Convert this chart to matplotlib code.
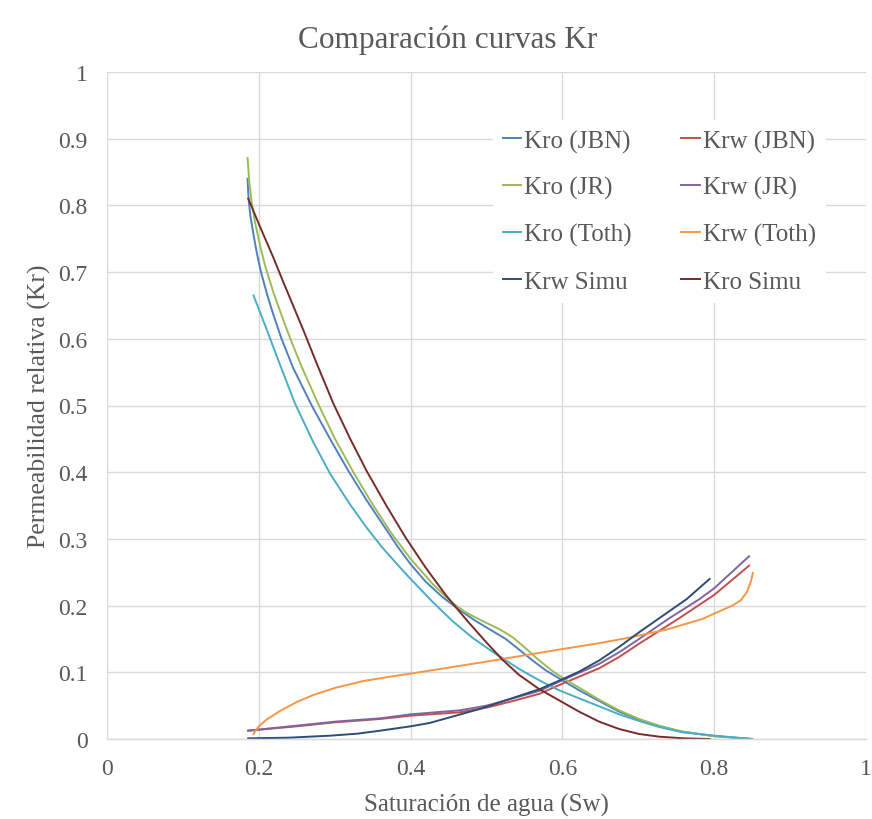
import matplotlib
matplotlib.use("Agg")
import matplotlib.pyplot as plt

# ---- data ----
sw_kro_jbn = [0.1852, 0.1865, 0.1888, 0.1932, 0.1977, 0.2029, 0.2108, 0.2195, 0.2300, 0.2450, 0.2697, 0.2938,
              0.318, 0.342, 0.3838, 0.40, 0.4198, 0.4418, 0.4637, 0.4857, 0.5077, 0.5253, 0.543, 0.5604, 0.578,
              0.60, 0.622, 0.6484, 0.6747, 0.7011, 0.7275, 0.7582, 0.80, 0.85]
kro_jbn    = [0.84, 0.81, 0.785, 0.755, 0.727, 0.70, 0.667, 0.635, 0.600, 0.557, 0.50, 0.45,
              0.402, 0.358, 0.287, 0.262, 0.236, 0.213, 0.194, 0.177, 0.162, 0.150, 0.134, 0.118, 0.103,
              0.088, 0.073, 0.057, 0.041, 0.029, 0.019, 0.011, 0.0045, 0.0]

sw_krw_jbn = [0.186, 0.25, 0.30, 0.36, 0.40, 0.465, 0.50, 0.535, 0.5705, 0.5956, 0.6484, 0.6747, 0.7011, 0.7538,
              0.792, 0.80, 0.846]
krw_jbn    = [0.0125, 0.019, 0.025, 0.030, 0.035, 0.040, 0.047, 0.057, 0.068, 0.0808, 0.106, 0.123, 0.1429, 0.181,
              0.21, 0.216, 0.26]

sw_kro_jr = [0.1852, 0.1875, 0.1906, 0.195, 0.2016, 0.2082, 0.2191, 0.2323, 0.2447, 0.2565, 0.2784, 0.3004,
             0.3245, 0.3509, 0.375, 0.40, 0.4286, 0.455, 0.4725, 0.4945, 0.5165, 0.534, 0.5516, 0.5692, 0.5868,
             0.60, 0.622, 0.6484, 0.6747, 0.7011, 0.7275, 0.7582, 0.80, 0.85]
kro_jr    = [0.871, 0.835, 0.805, 0.775, 0.740, 0.710, 0.670, 0.628, 0.591, 0.558, 0.502, 0.450,
             0.400, 0.350, 0.308, 0.270, 0.233, 0.204, 0.190, 0.177, 0.165, 0.153, 0.136, 0.118, 0.102,
             0.092, 0.077, 0.059, 0.043, 0.030, 0.020, 0.011, 0.004, 0.0]

sw_krw_jr = [0.186, 0.25, 0.30, 0.36, 0.40, 0.465, 0.50, 0.535, 0.5705, 0.5956, 0.6484, 0.6747, 0.7011, 0.7407,
             0.781, 0.80, 0.846]
krw_jr    = [0.0125, 0.020, 0.026, 0.031, 0.037, 0.043, 0.050, 0.061, 0.0725, 0.0859, 0.1126, 0.13, 0.15, 0.181,
             0.21, 0.226, 0.274]

sw_kro_toth = [0.193, 0.2016, 0.2104, 0.2183, 0.228, 0.2477, 0.2718, 0.2938, 0.32, 0.342, 0.362, 0.3846, 0.40,
               0.4286, 0.455, 0.4813, 0.5077, 0.5253, 0.543, 0.5648, 0.578, 0.5956, 0.622, 0.6484, 0.6747,
               0.7011, 0.7275, 0.7582, 0.80, 0.85]
kro_toth    = [0.665, 0.640, 0.614, 0.590, 0.561, 0.503, 0.445, 0.398, 0.352, 0.317, 0.288, 0.259, 0.240,
               0.206, 0.177, 0.152, 0.131, 0.118, 0.105, 0.091, 0.083, 0.073, 0.061, 0.049, 0.037,
               0.027, 0.018, 0.010, 0.005, 0.0]

sw_krw_toth = [0.193, 0.196, 0.20, 0.21, 0.228, 0.25, 0.272, 0.30, 0.338, 0.3846, 0.40, 0.4945, 0.5956, 0.65,
               0.6835, 0.737, 0.7846, 0.80, 0.824, 0.835, 0.843, 0.848, 0.851]
krw_toth    = [0.0075, 0.013, 0.019, 0.029, 0.042, 0.0555, 0.066, 0.0765, 0.087, 0.0955, 0.098, 0.115, 0.134, 0.144,
               0.151, 0.164, 0.180, 0.188, 0.200, 0.208, 0.22, 0.235, 0.249]

sw_krw_simu = [0.186, 0.24, 0.294, 0.33, 0.36, 0.40, 0.425, 0.491, 0.5705, 0.5956, 0.622, 0.6484, 0.6747, 0.7011,
               0.7275, 0.764, 0.794]
krw_simu    = [0.001, 0.002, 0.005, 0.008, 0.0125, 0.019, 0.024, 0.045, 0.075, 0.0874, 0.101, 0.1177, 0.138, 0.16,
               0.181, 0.21, 0.24]

sw_kro_simu = [0.1862, 0.2016, 0.2191, 0.2323, 0.2477, 0.2587, 0.2763, 0.2982, 0.32, 0.342, 0.3685, 0.3934,
               0.4198, 0.4462, 0.4725, 0.4989, 0.5209, 0.543, 0.5692, 0.5956, 0.622, 0.6484, 0.6747, 0.7011,
               0.7275, 0.76, 0.794]
kro_simu    = [0.81, 0.768, 0.722, 0.685, 0.643, 0.613, 0.563, 0.503, 0.451, 0.402, 0.349, 0.302,
               0.257, 0.216, 0.180, 0.146, 0.119, 0.096, 0.075, 0.058, 0.041, 0.026, 0.015, 0.0075,
               0.0035, 0.001, 0.0]

labels = ["Kro (JBN)", "Krw (JBN)", "Kro (JR)", "Krw (JR)",
          "Kro (Toth)", "Krw (Toth)", "Krw Simu", "Kro Simu"]
colors = ["#4F81BD", "#C0504D", "#9BBB59", "#8064A2",
          "#4BACC6", "#F79646", "#2C4D75", "#772C2A"]

x_ticks = [0, 0.2, 0.4, 0.6, 0.8, 1]
x_ticklabels = ["0", "0.2", "0.4", "0.6", "0.8", "1"]
y_ticks = [0, 0.1, 0.2, 0.3, 0.4, 0.5, 0.6, 0.7, 0.8, 0.9, 1]
y_ticklabels = ["0", "0.1", "0.2", "0.3", "0.4", "0.5", "0.6", "0.7", "0.8", "0.9", "1"]

series = [(sw_kro_jbn, kro_jbn), (sw_krw_jbn, krw_jbn), (sw_kro_jr, kro_jr),
          (sw_krw_jr, krw_jr), (sw_kro_toth, kro_toth), (sw_krw_toth, krw_toth),
          (sw_krw_simu, krw_simu), (sw_kro_simu, kro_simu)]

plt.rcParams['font.family'] = ['Liberation Serif', 'DejaVu Serif']
txt = "#595959"

fig = plt.figure(figsize=(8.72, 8.2), dpi=100)
ax = fig.add_axes([107/872, 1-740/820, (866-107)/872, (740-73)/820])

handles = []
for (x, y), lab, c in zip(series, labels, colors):
    h, = ax.plot(x, y, color=c, lw=1.4, label=lab, solid_joinstyle="round")
    handles.append(h)

ax.set_xlim(0, 1)
ax.set_ylim(0, 1)
ax.set_xticks(x_ticks)
ax.set_xticklabels(x_ticklabels)
ax.set_yticks(y_ticks)
ax.set_yticklabels(y_ticklabels)
ax.tick_params(length=0, labelsize=17, colors=txt, pad=14)
ax.grid(True, color="#D9D9D9", lw=1.0)
ax.set_axisbelow(True)
for s in ["top", "right", "left"]:
    ax.spines[s].set_visible(False)
ax.spines["bottom"].set_color("#D9D9D9")
ax.spines["bottom"].set_linewidth(1.0)

ax.set_xlabel("Saturación de agua (Sw)", fontsize=18, color=txt, labelpad=10)
ax.set_ylabel("Permeabilidad relativa (Kr)", fontsize=18.5, color=txt, labelpad=5)
fig.text(448/872, 1-40/820, "Comparación curvas Kr", fontsize=22.5, color=txt,
         ha="center", va="center")

# legend filled row by row, like the reference
order = [0, 2, 4, 6, 1, 3, 5, 7]
leg = ax.legend([handles[i] for i in order], [labels[i] for i in order],
                ncol=2, loc="upper left", bbox_to_anchor=((480-107)/759, (740-108)/667),
                fontsize=18, frameon=True, facecolor="white", edgecolor="none",
                framealpha=1, fancybox=False, handlelength=0.75, handletextpad=0.1,
                columnspacing=2.0, labelspacing=0.95, borderpad=0.4)
for t in leg.get_texts():
    t.set_color(txt)

fig.savefig("out.png", dpi=100)
